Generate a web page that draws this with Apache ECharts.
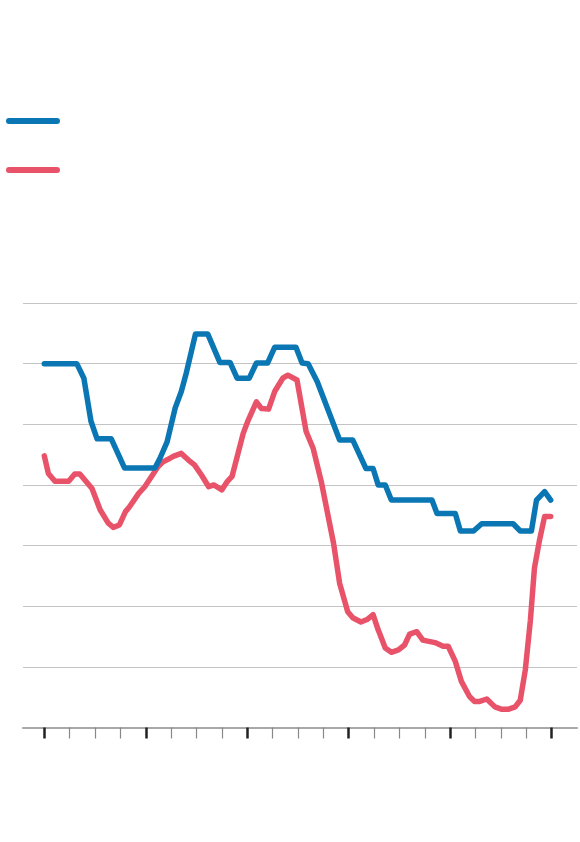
<!DOCTYPE html>
<html>
<head>
<meta charset="utf-8">
<script src="https://cdn.jsdelivr.net/npm/echarts@6/dist/echarts.min.js"></script>
<style>
html,body{margin:0;padding:0;background:#fff;}
#chart{width:580px;height:842px;}
</style>
</head>
<body>
<div id="chart"></div>
<script>
// x positions in years from the first major tick (0) to the last (5); y in gridline units
const blueX = [0, 0.32, 0.39, 0.46, 0.52, 0.66, 0.79, 1.09, 1.14, 1.21, 1.29, 1.35, 1.40, 1.49, 1.61, 1.73, 1.83, 1.90, 2.02, 2.09, 2.20, 2.27, 2.48, 2.54, 2.60, 2.69, 2.91, 3.04, 3.17, 3.24, 3.29, 3.36, 3.42, 3.82, 3.87, 4.05, 4.10, 4.23, 4.31, 4.62, 4.69, 4.80, 4.85, 4.93, 4.99];
const blueY = [6.0, 6.0, 5.76, 5.05, 4.76, 4.76, 4.28, 4.28, 4.44, 4.71, 5.27, 5.54, 5.85, 6.49, 6.49, 6.02, 6.02, 5.76, 5.76, 6.01, 6.01, 6.27, 6.27, 6.01, 6.0, 5.70, 4.74, 4.74, 4.27, 4.27, 4.0, 4.0, 3.75, 3.75, 3.53, 3.53, 3.24, 3.24, 3.36, 3.36, 3.24, 3.24, 3.75, 3.89, 3.75];
const redX = [0, 0.04, 0.105, 0.24, 0.30, 0.35, 0.47, 0.55, 0.63, 0.68, 0.74, 0.80, 0.84, 0.93, 0.99, 1.12, 1.17, 1.24, 1.27, 1.35, 1.42, 1.48, 1.55, 1.62, 1.67, 1.75, 1.80, 1.85, 1.96, 2.01, 2.09, 2.14, 2.21, 2.27, 2.35, 2.40, 2.49, 2.58, 2.65, 2.73, 2.85, 2.91, 2.99, 3.04, 3.12, 3.18, 3.24, 3.29, 3.36, 3.42, 3.49, 3.55, 3.60, 3.67, 3.73, 3.85, 3.93, 3.98, 4.05, 4.11, 4.19, 4.24, 4.29, 4.36, 4.44, 4.51, 4.57, 4.64, 4.69, 4.74, 4.79, 4.83, 4.88, 4.93, 4.99];
const redY = [4.48, 4.19, 4.06, 4.06, 4.18, 4.18, 3.94, 3.59, 3.37, 3.30, 3.34, 3.56, 3.64, 3.86, 3.97, 4.30, 4.38, 4.44, 4.47, 4.52, 4.41, 4.33, 4.16, 3.97, 4.0, 3.92, 4.05, 4.14, 4.85, 5.07, 5.37, 5.26, 5.25, 5.54, 5.76, 5.81, 5.73, 4.88, 4.60, 4.05, 3.04, 2.38, 1.91, 1.81, 1.74, 1.78, 1.86, 1.61, 1.31, 1.24, 1.28, 1.36, 1.54, 1.58, 1.44, 1.40, 1.34, 1.34, 1.09, 0.76, 0.51, 0.43, 0.43, 0.47, 0.34, 0.30, 0.30, 0.34, 0.45, 0.95, 1.77, 2.63, 3.09, 3.48, 3.48];
const seriesNames = ['A', 'B'];
const colors = ['#0a77b4', '#e9536a'];

const zip = (xs, ys) => xs.map((x, i) => [x, ys[i]]);

const chart = echarts.init(document.getElementById('chart'), null, {renderer: 'canvas'});
chart.setOption({
  animation: false,
  backgroundColor: '#fff',
  legend: {
    orient: 'vertical',
    left: 6,
    top: 118,
    padding: 0,
    itemWidth: 54,
    itemHeight: 6,
    itemGap: 43,
    icon: 'path://M3,0 L51,0 A3,3 0 0 1 51,6 L3,6 A3,3 0 0 1 3,0 Z',
    formatter: () => '',
    textStyle: {fontSize: 1, lineHeight: 1},
    data: seriesNames,
    selectedMode: false
  },
  grid: [
    {left: 23, right: 3, top: 303, bottom: 114.5},
    {left: 44.3, right: 28.3, top: 303, bottom: 114.5}
  ],
  xAxis: [
    {
      gridIndex: 0, type: 'value', min: 0, max: 1,
      axisLine: {show: true, lineStyle: {color: '#a8a8a8', width: 2}},
      axisTick: {show: false}, axisLabel: {show: false}, splitLine: {show: false}
    },
    {
      gridIndex: 1, type: 'value', min: 0, max: 5, interval: 1,
      axisLine: {show: false},
      axisTick: {show: true, length: 11, lineStyle: {color: '#222', width: 2.5}},
      minorTick: {show: true, splitNumber: 4, length: 11, lineStyle: {color: '#888', width: 1.2}},
      axisLabel: {show: false}, splitLine: {show: false}
    }
  ],
  yAxis: [
    {
      gridIndex: 0, type: 'value', min: 0, max: 7, interval: 1,
      axisLine: {show: false}, axisTick: {show: false}, axisLabel: {show: false},
      splitLine: {show: true, lineStyle: {color: '#c4c4c4', width: 1.2}}
    },
    {
      gridIndex: 1, type: 'value', min: 0, max: 7, interval: 1,
      axisLine: {show: false}, axisTick: {show: false}, axisLabel: {show: false},
      splitLine: {show: false}
    }
  ],
  series: [
    {
      name: seriesNames[0], type: 'line', xAxisIndex: 1, yAxisIndex: 1,
      data: zip(blueX, blueY), showSymbol: false, color: colors[0],
      lineStyle: {width: 5.5, cap: 'round', join: 'round', color: colors[0]}, z: 3
    },
    {
      name: seriesNames[1], type: 'line', xAxisIndex: 1, yAxisIndex: 1,
      data: zip(redX, redY), showSymbol: false, color: colors[1],
      lineStyle: {width: 5.5, cap: 'round', join: 'round', color: colors[1]}, z: 2
    }
  ]
});
</script>
</body>
</html>
